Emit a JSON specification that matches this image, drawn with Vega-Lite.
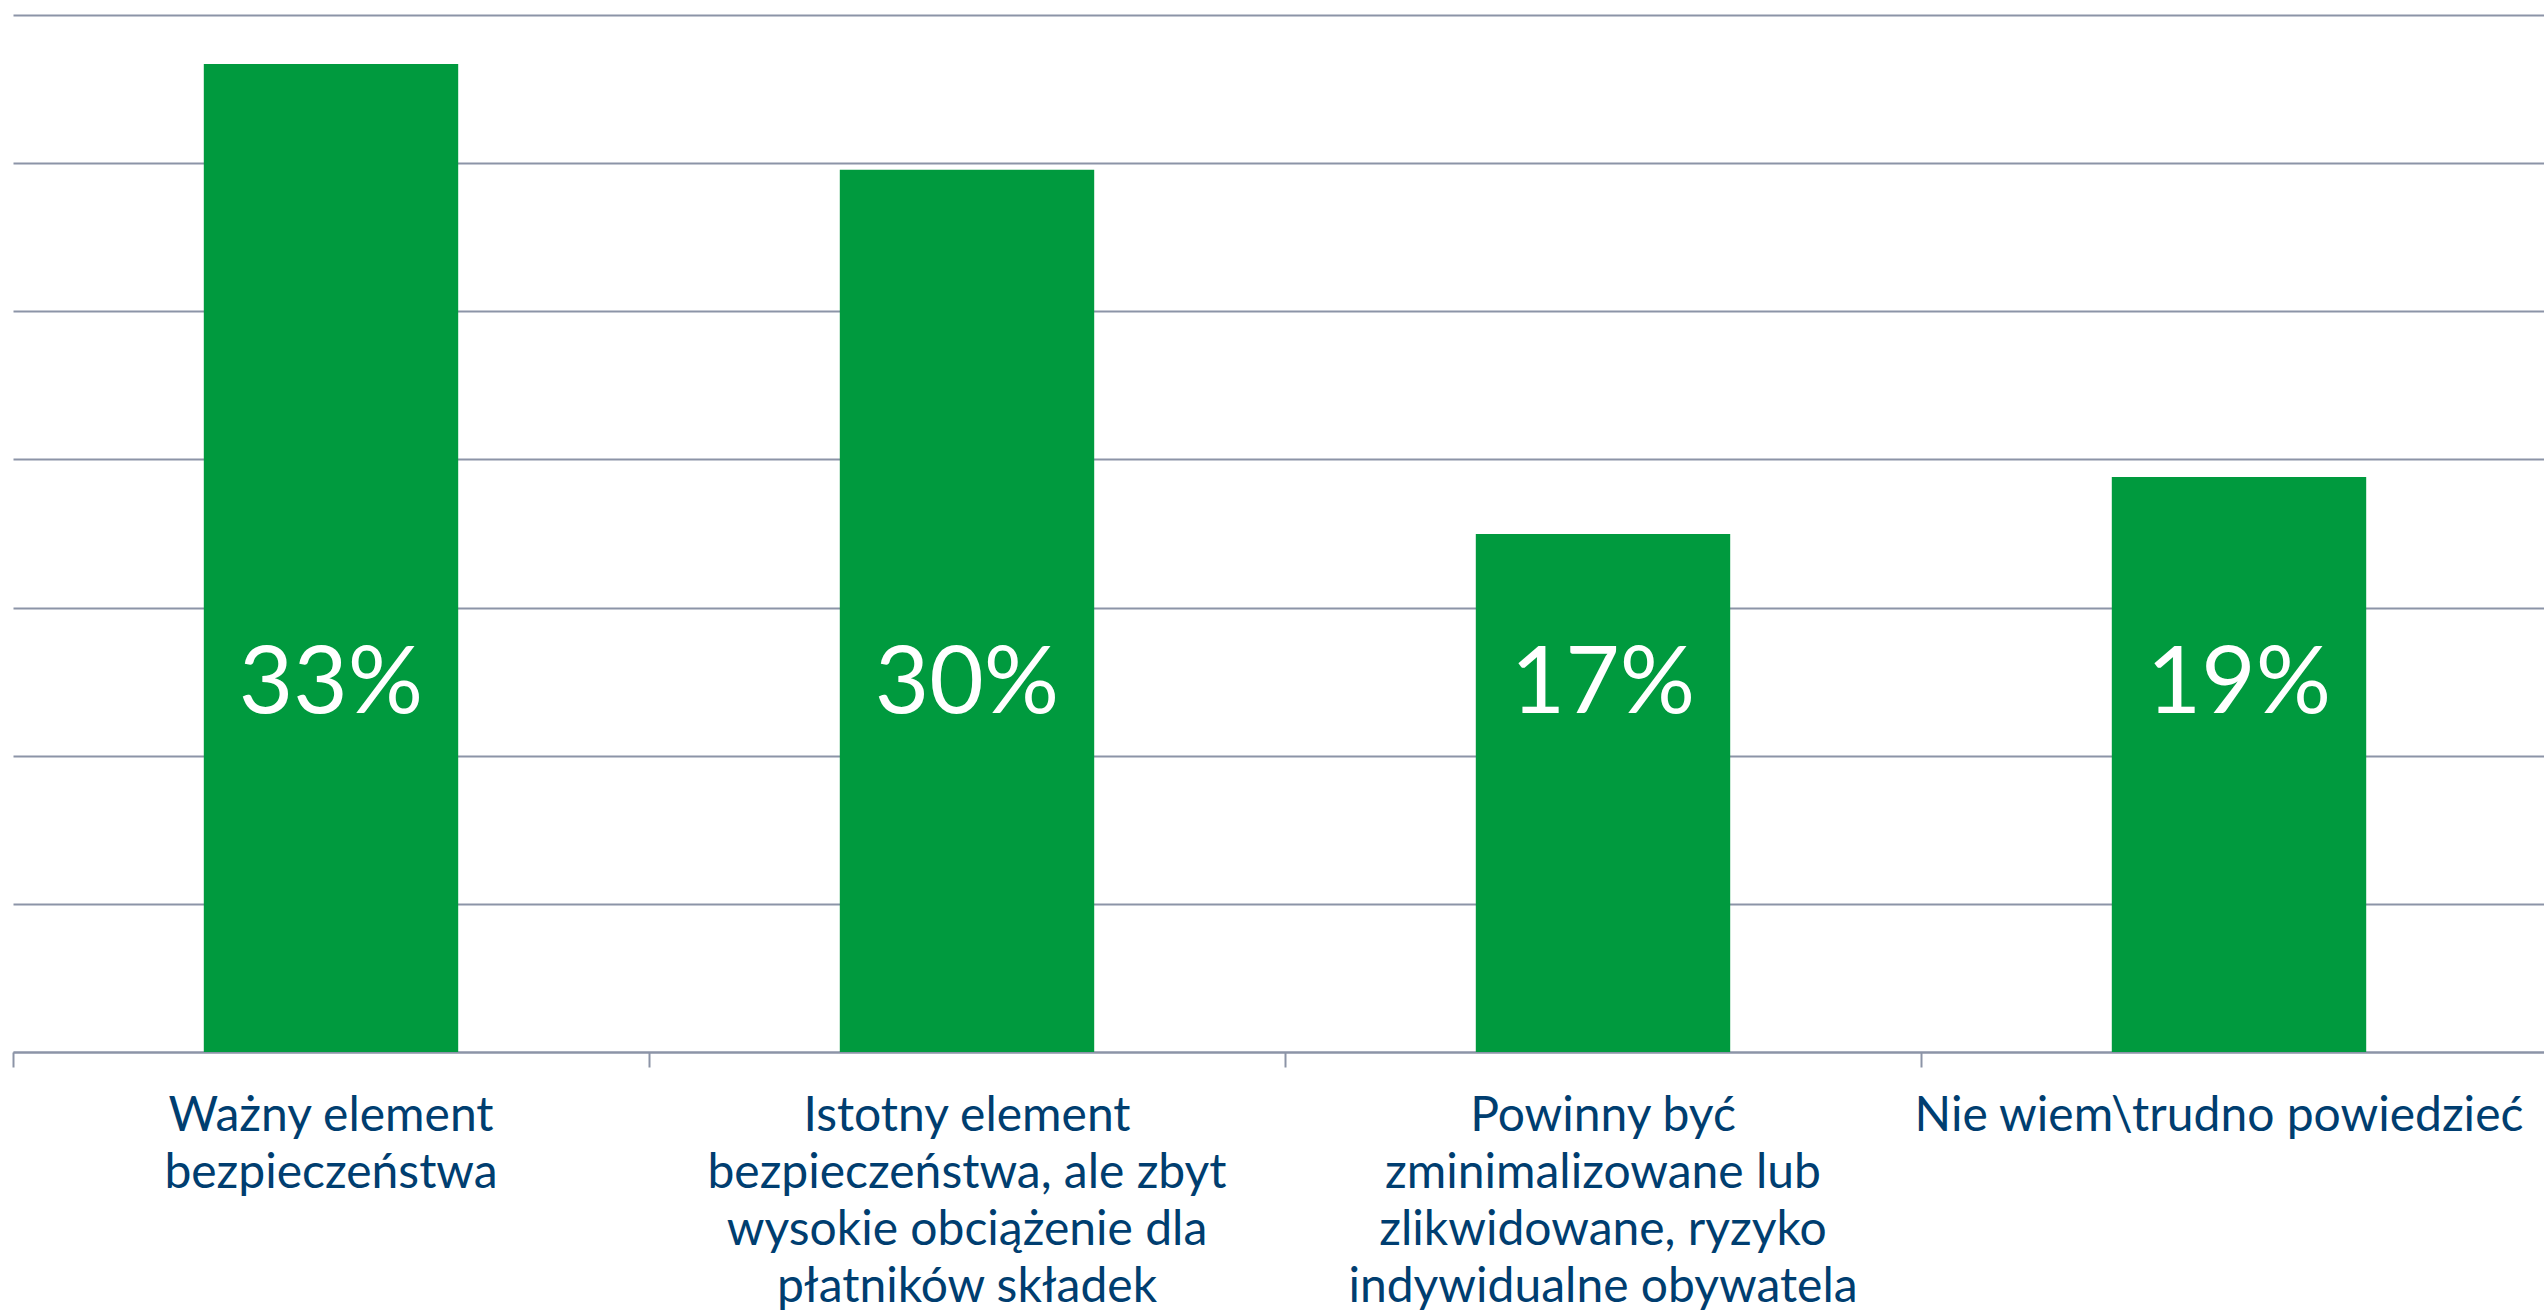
{
  "$schema": "https://vega.github.io/schema/vega-lite/v6.json",
  "width": 2544,
  "height": 1037,
  "padding": {"left": 13, "top": 15, "right": -13, "bottom": 260},
  "autosize": {"type": "none"},
  "background": "white",
  "config": {"view": {"stroke": null}},
  "data": {
    "values": [
      {"kategoria": "Ważny element\nbezpieczeństwa", "udzial": 0.3335},
      {"kategoria": "Istotny element\nbezpieczeństwa, ale zbyt\nwysokie obciążenie dla\npłatników składek", "udzial": 0.2978},
      {"kategoria": "Powinny być\nzminimalizowane lub\nzlikwidowane, ryzyko\nindywidualne obywatela", "udzial": 0.1748},
      {"kategoria": "Nie wiem\\trudno powiedzieć", "udzial": 0.1941}
    ]
  },
  "encoding": {
    "x": {
      "field": "kategoria",
      "type": "nominal",
      "sort": null,
      "scale": {"paddingInner": 0, "paddingOuter": 0},
      "axis": {
        "title": null,
        "domainColor": "#8c94a7",
        "domainWidth": 2,
        "tickColor": "#8c94a7",
        "tickWidth": 2,
        "tickSize": 15,
        "bandPosition": 0,
        "labelAngle": 0,
        "labelAlign": "center",
        "labelFont": "Lato",
        "labelFontSize": 48,
        "labelColor": "#003e70",
        "labelLineHeight": 57,
        "labelPadding": 25,
        "labelBaseline": "top",
        "labelLimit": 0,
        "labelOverlap": false,
        "labelBound": false,
        "labelFlush": false,
        "labelOffset": {"condition": {"test": "indexof(datum.value, 'Nie wiem') == 0", "value": -20}, "value": 0},
        "labelExpr": "split(datum.label, '\\n')"
      }
    }
  },
  "layer": [
    {
      "mark": {"type": "bar", "width": {"band": 0.4}, "color": "#009a3e"},
      "encoding": {
        "y": {
          "field": "udzial",
          "type": "quantitative",
          "scale": {"domain": [0, 0.35], "nice": false},
          "axis": {
            "title": null,
            "grid": true,
            "gridColor": "#8c94a7",
            "gridWidth": 2,
            "domain": false,
            "ticks": false,
            "labels": false,
            "values": [0, 0.05, 0.1, 0.15, 0.2, 0.25, 0.3, 0.35]
          }
        }
      }
    },
    {
      "mark": {"type": "text", "color": "white", "font": "Lato", "fontSize": 94, "fontWeight": "normal", "baseline": "alphabetic", "align": "center"},
      "encoding": {
        "y": {"datum": 0.1145},
        "text": {"field": "udzial", "type": "quantitative", "format": ".0%"}
      }
    }
  ]
}
